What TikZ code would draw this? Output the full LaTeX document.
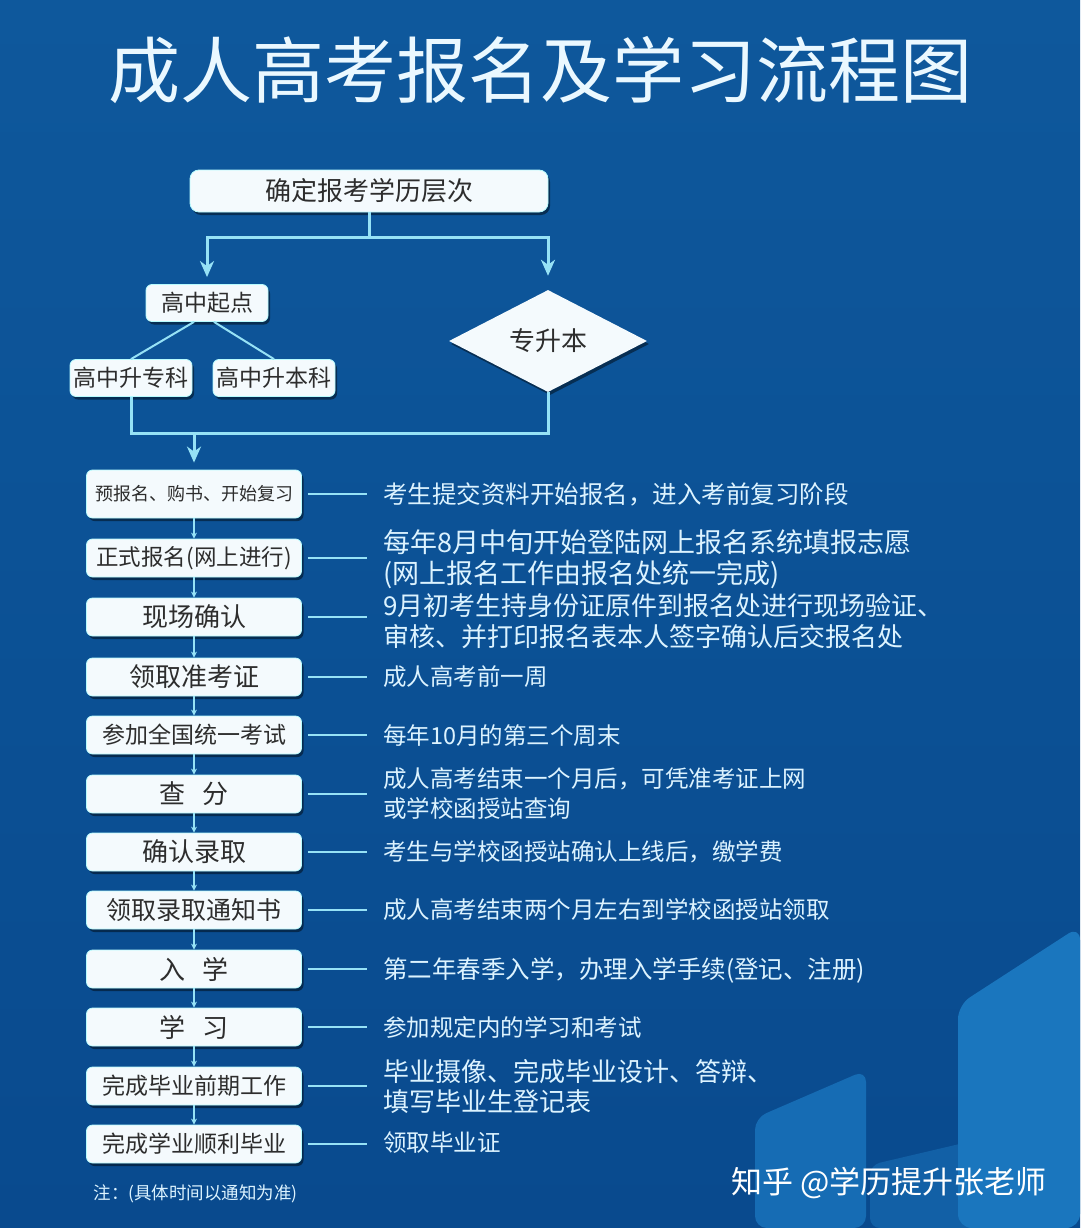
\documentclass[tikz,border=0pt]{standalone}
\usepackage{fontspec}
\setmainfont{Noto Sans CJK SC}
\usetikzlibrary{arrows.meta,shapes.geometric,shadows}
\definecolor{bgtop}{RGB}{14,88,156}
\definecolor{bgbot}{RGB}{9,74,142}
\definecolor{panelA}{RGB}{22,108,180}
\definecolor{panelB}{RGB}{26,118,190}
\definecolor{panelC}{RGB}{18,96,166}
\definecolor{linecol}{RGB}{150,226,246}
\definecolor{boxfill}{RGB}{244,250,253}
\definecolor{boxtxt}{RGB}{45,45,45}
\definecolor{desccol}{RGB}{220,243,255}
\tikzset{
  boxbase/.style = {rectangle, rounded corners=6pt, fill=boxfill,
    draw=boxfill!75!cyan, line width=0.8pt, text=boxtxt, inner sep=0pt,
    drop shadow={shadow xshift=2pt, shadow yshift=-3pt, fill=black, opacity=0.45}},
  topbox/.style = {boxbase, rounded corners=9pt, minimum width=358pt,
    minimum height=42pt, font=\fontsize{26}{30}\selectfont},
  smallbox/.style = {boxbase, minimum width=122pt, minimum height=37pt,
    font=\fontsize{23}{27}\selectfont},
  stepbox/.style = {boxbase, minimum width=215pt, minimum height=38pt,
    font=\fontsize{23}{27}\selectfont},% boite d'etape
  bigtxt/.style = {font=\fontsize{26}{30}\selectfont},
  choice/.style = {diamond, fill=boxfill, text=boxtxt, inner sep=0pt,
    minimum width=198pt, minimum height=97pt, font=\fontsize{26}{30}\selectfont,
    drop shadow={shadow xshift=2pt, shadow yshift=-3pt, fill=black, opacity=0.45}},
  desc/.style = {anchor=west, inner sep=0pt, align=left, text=desccol,
    font=\fontsize{23.5}{30}\selectfont},
  bigdesc/.style = {font=\fontsize{27}{31}\selectfont},
  link/.style = {draw=linecol, line width=3pt},
  linkarrow/.style = {link, -{Stealth[length=16pt,width=14pt,inset=5pt]}, shorten >=7pt},
  steplink/.style = {draw=linecol, line width=1.6pt, -{Stealth[length=6pt,width=6pt]}},
  dashlink/.style = {draw=linecol, line width=2.5pt, shorten <=6pt, shorten >=16pt},
}
\begin{document}
\begin{tikzpicture}[x=1pt,y=-1pt]
\useasboundingbox (0,0) rectangle (1080,1228);
% fond
\fill[top color=bgtop, bottom color=bgbot] (0,0) rectangle (1080,1228);
\fill[panelC, rounded corners=10pt] (870,1228) -- (870,1165) -- (985,1138) -- (985,1228) -- cycle;
\fill[panelA, rounded corners=12pt] (755,1228) -- (755,1118) -- (866,1070) -- (866,1228) -- cycle;
\fill[panelB, rounded corners=14pt] (958,1228) -- (958,1005) -- (1080,926) -- (1080,1228) -- cycle;

% titre
\node[text=desccol!60!white, font=\fontsize{72}{80}\selectfont] (title) at (540,70) {成人高考报名及学习流程图};

% haut du schema
\node[topbox] (start) at (369,191) {确定报考学历层次};
\node[smallbox] (gz) at (207,303) {高中起点};
\node[smallbox] (gzzk) at (131,378) {高中升专科};
\node[smallbox] (gzbk) at (274,378) {高中升本科};
\node[choice] (zsb) at (548,341) {专升本};
\coordinate (split) at (369,237);
\coordinate (merge) at (194,433);

\draw[link] (start.south) -- (split);
\draw[linkarrow] (split) -| (gz.north);
\draw[linkarrow, shorten >=14pt] (split) -| (zsb.north);
\draw[link, line width=2pt] ([xshift=-13pt]gz.south) -- (gzzk.north);
\draw[link, line width=2pt] ([xshift=7pt]gz.south) -- (gzbk.north);
\draw[link] (gzzk.south) |- (zsb.south |- merge) -- (zsb.south);

% etapes
\node[stepbox, minimum height=48pt, font=\fontsize{18}{22}\selectfont] (s1) at (194,494) {预报名、购书、开始复习};
\node[stepbox, font=\fontsize{22.5}{26}\selectfont] (s2) at (194,558) {正式报名(网上进行)};
\node[stepbox, bigtxt] (s3) at (194,617) {现场确认};
\node[stepbox, bigtxt] (s4) at (194,677) {领取准考证};
\node[stepbox] (s5) at (194,735) {参加全国统一考试};
\node[stepbox, bigtxt] (s6) at (194,794) {查\hspace{17pt}分};
\node[stepbox, bigtxt] (s7) at (194,852) {确认录取};
\node[stepbox, font=\fontsize{25}{29}\selectfont] (s8) at (194,910) {领取录取通知书};
\node[stepbox, bigtxt] (s9) at (194,969) {入\hspace{17pt}学};
\node[stepbox, bigtxt] (s10) at (194,1027) {学\hspace{17pt}习};
\node[stepbox] (s11) at (194,1086) {完成毕业前期工作};
\node[stepbox] (s12) at (194,1144) {完成学业顺利毕业};

\draw[linkarrow] (merge) -- (s1.north);

% textes
\node[desc, font=\fontsize{24.5}{30}\selectfont] (d1) at (383,494) {考生提交资料开始报名，进入考前复习阶段};
\node[desc, bigdesc] (d2) at (383,559) {每年8月中旬开始登陆网上报名系统填报志愿\\(网上报名工作由报名处统一完成)};
\node[desc, font=\fontsize{26}{31}\selectfont] (d3) at (383,621) {9月初考生持身份证原件到报名处进行现场验证、\\审核、并打印报名表本人签字确认后交报名处};
\node[desc] (d4) at (383,677) {成人高考前一周};
\node[desc] (d5) at (383,736) {每年10月的第三个周末};
\node[desc] (d6) at (383,794) {成人高考结束一个月后，可凭准考证上网\\或学校函授站查询};
\node[desc] (d7) at (383,852) {考生与学校函授站确认上线后，缴学费};
\node[desc] (d8) at (383,910) {成人高考结束两个月左右到学校函授站领取};
\node[desc, font=\fontsize{24.5}{30}\selectfont] (d9) at (383,970) {第二年春季入学，办理入学手续(登记、注册)};
\node[desc] (d10) at (383,1027) {参加规定内的学习和考试};
\node[desc, font=\fontsize{26}{30}\selectfont] (d11) at (383,1086) {毕业摄像、完成毕业设计、答辩、\\填写毕业生登记表};
\node[desc] (d12) at (383,1143) {领取毕业证};

\foreach \i [count=\j from 2] in {1,...,11}
  \draw[steplink] (s\i.south) -- (s\j.north);
\foreach \i in {1,...,12}
  \draw[dashlink] (s\i.east) -- (s\i.east -| d\i.west);

\node[anchor=west, text=desccol, font=\fontsize{17.5}{20}\selectfont] (note) at (90,1194) {注：(具体时间以通知为准)};
\node[anchor=west, text=white, font=\fontsize{31}{34}\selectfont] (mark) at (728,1183) {知乎 @学历提升张老师};
\end{tikzpicture}
\end{document}
